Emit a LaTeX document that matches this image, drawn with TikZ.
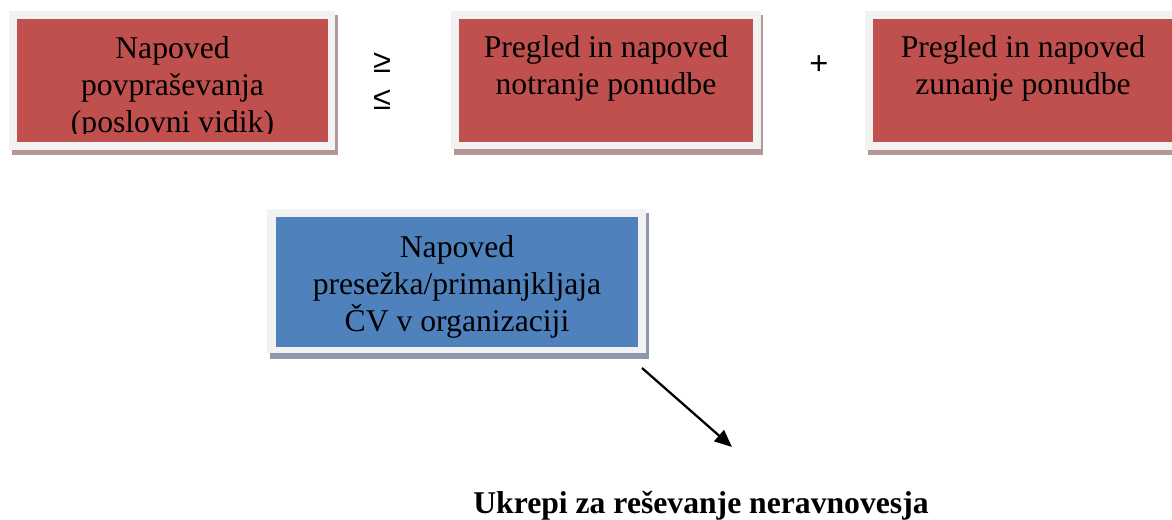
\documentclass[tikz,border=0pt]{standalone}
\usepackage{fontspec}
\setmainfont{Liberation Serif}
\newfontfamily\symfont{Liberation Sans}
\usetikzlibrary{arrows.meta}
\definecolor{boxred}{HTML}{C0504D}
\definecolor{boxblue}{HTML}{4F81BD}
\definecolor{framegray}{HTML}{F2F2F2}
\definecolor{shred}{HTML}{B59696}
\definecolor{shblue}{HTML}{8E98AA}
\tikzset{
  shadowred/.style={fill=shred},
  shadowblue/.style={fill=shblue},
  framebox/.style={fill=framegray},
  redfill/.style={fill=boxred},
  bluefill/.style={fill=boxblue},
  boxtext/.style={font=\fontsize{23.75}{27.75}\selectfont, align=center, inner sep=0pt, anchor=base},
  symtext/.style={font=\symfont\fontsize{24.5}{27.75}\selectfont, inner sep=0pt, anchor=center},
  bigtext/.style={font=\fontsize{23.75}{27.75}\selectfont\bfseries, inner sep=0pt, anchor=base},
  arrowline/.style={line width=1.7pt, -{Triangle[length=13pt, width=11pt]}},
}
\begin{document}
\begin{tikzpicture}[x=0.75pt, y=-0.75pt]
\useasboundingbox (0,0) rectangle (1172,519);
% box 1
\path[shadowred] (12,15) rectangle (338,155);
\path[framebox] (9,11) rectangle (335,150);
\path[redfill] (17,19) rectangle (328,142);
\begin{scope}
\clip (17,19) rectangle (328,133);
\node[boxtext] (demand) at (172.5,132) {Napoved\\povpraševanja\\(poslovni vidik)};
\end{scope}
% relation signs
\node[symtext] (geq) at (382,63) {≥};
\node[symtext] (leq) at (382,100) {≤};
% box 2
\path[shadowred] (454,15) rectangle (763,155);
\path[framebox] (451,11) rectangle (761,149);
\path[redfill] (459,19) rectangle (753,142);
\node[boxtext] (internal) at (606,94) {Pregled in napoved\\notranje ponudbe};
% plus
\node[symtext] (plus) at (819,65) {+};
% box 3
\path[shadowred] (868,15) rectangle (1180,155);
\path[framebox] (865,11) rectangle (1180,150);
\path[redfill] (873,19) rectangle (1173,142);
\node[boxtext] (external) at (1023,94) {Pregled in napoved\\zunanje ponudbe};
% box 4
\path[shadowblue] (270,213) rectangle (649,359);
\path[framebox] (267,209) rectangle (646,353);
\path[bluefill] (276,217) rectangle (638,347);
\node[boxtext] (gap) at (457,331) {Napoved\\presežka/primanjkljaja\\ČV v organizaciji};
% arrow and result
\coordinate (astart) at (642,368);
\coordinate (aend) at (732,447);
\draw[arrowline] (astart) -- (aend);
\node[bigtext] (measures) at (701,513) {Ukrepi za reševanje neravnovesja};
\end{tikzpicture}
\end{document}
